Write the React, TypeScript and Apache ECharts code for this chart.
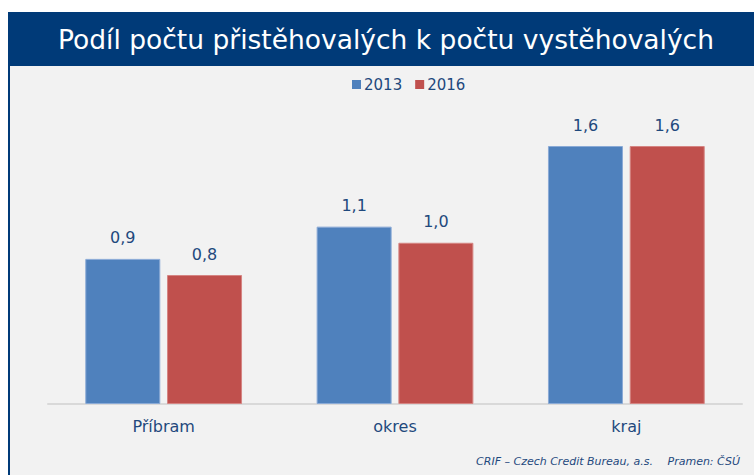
import React, { useEffect, useRef } from "react";
import * as echarts from "echarts";

const categories = ["Příbram", "okres", "kraj"];
const series2013 = [0.9, 1.1, 1.6];
const series2016 = [0.8, 1.0, 1.6];
const seriesNames = ["2013", "2016"];
const titleText = "Podíl počtu přistěhovalých k počtu vystěhovalých";
const footerLeft = "CRIF – Czech Credit Bureau, a.s.";
const footerRight = "Pramen: ČSÚ";

const FONT = "'DejaVu Sans', Verdana, sans-serif";
const NAVY = "#003A78";
const TEXT = "#1F497D";

export default function App() {
  const ref = useRef<HTMLDivElement>(null);
  useEffect(() => {
    if (!ref.current) return;
    const chart = echarts.init(ref.current, undefined, { renderer: "svg" });
    const fmt = (p: any) => Number(p.value).toFixed(1).replace(".", ",");
    chart.setOption({
      animation: false,
      backgroundColor: "#FFFFFF",
      graphic: [
        { type: "rect", z: -10, shape: { x: 8, y: 12, width: 746, height: 463 }, style: { fill: "#F2F2F2" } },
        { type: "rect", z: -9, shape: { x: 8, y: 12, width: 2, height: 463 }, style: { fill: NAVY } },
        { type: "rect", z: -9, shape: { x: 8, y: 12, width: 746, height: 54 }, style: { fill: NAVY } },
        {
          type: "text",
          x: 386,
          y: 39,
          style: {
            text: titleText,
            fill: "#FFFFFF",
            font: `26.5px ${FONT}`,
            textAlign: "center",
            textVerticalAlign: "middle",
          },
        },
        {
          type: "text",
          x: 653,
          y: 461,
          style: {
            text: footerLeft,
            fill: TEXT,
            font: `italic 11px ${FONT}`,
            textAlign: "right",
            textVerticalAlign: "middle",
          },
        },
        {
          type: "text",
          x: 740,
          y: 461,
          style: {
            text: footerRight,
            fill: TEXT,
            font: `italic 11px ${FONT}`,
            textAlign: "right",
            textVerticalAlign: "middle",
          },
        },
      ],
      legend: {
        data: seriesNames,
        left: 347,
        top: 72,
        itemWidth: 9,
        itemHeight: 9,
        itemGap: 13,
        icon: "rect",
        itemStyle: { borderWidth: 0 },
        textStyle: { color: TEXT, fontSize: 15, fontFamily: FONT, padding: [0, 0, 0, -2] },
      },
      grid: { left: 48, right: 12, top: 81.5, bottom: 71, containLabel: false },
      xAxis: {
        type: "category",
        data: categories,
        axisLine: { lineStyle: { color: "#D9D9D9", width: 2 } },
        axisTick: { show: false },
        axisLabel: { color: TEXT, fontSize: 16, fontFamily: FONT, margin: 14 },
      },
      yAxis: {
        type: "value",
        min: 0,
        max: 2,
        show: false,
        splitLine: { show: false },
      },
      series: [
        {
          name: seriesNames[0],
          type: "bar",
          data: series2013,
          barWidth: 75,
          barGap: "9%",
          itemStyle: { color: "#4F81BD", borderColor: "#8AAAD6", borderWidth: 1 },
          label: {
            show: true,
            position: "top",
            distance: 13,
            formatter: fmt,
            color: TEXT,
            fontSize: 16,
            fontFamily: FONT,
          },
        },
        {
          name: seriesNames[1],
          type: "bar",
          data: series2016,
          barWidth: 75,
          barGap: "9%",
          itemStyle: { color: "#C0504D", borderColor: "#D58583", borderWidth: 1 },
          label: {
            show: true,
            position: "top",
            distance: 13,
            formatter: fmt,
            color: TEXT,
            fontSize: 16,
            fontFamily: FONT,
          },
        },
      ],
    });
    return () => chart.dispose();
  }, []);
  return (
    <div
      ref={ref}
      style={{ position: "absolute", left: 0, top: 0, width: 754, height: 475 }}
    />
  );
}
